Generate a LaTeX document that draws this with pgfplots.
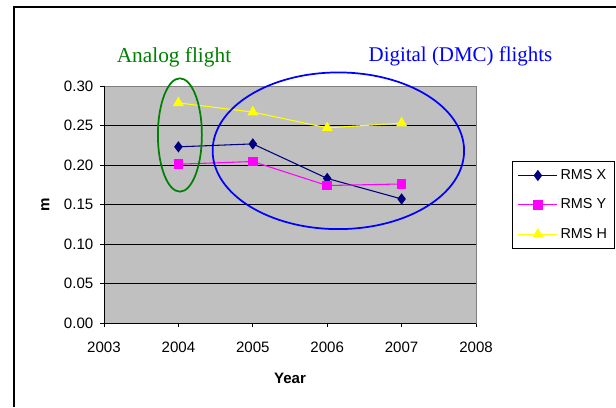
\documentclass[border=0pt]{standalone}
\usepackage{fontspec}
\setmainfont{Liberation Sans}
\newfontfamily\timesfont{Liberation Serif}
\usepackage{pgfplots}
\pgfplotsset{compat=1.18}
\definecolor{plotgray}{RGB}{192,192,192}
\definecolor{rmsx}{RGB}{0,0,128}
\definecolor{rmsy}{RGB}{255,0,255}
\definecolor{rmsh}{RGB}{255,255,0}
\definecolor{anagreen}{RGB}{0,128,0}
\definecolor{digblue}{RGB}{0,0,255}
\begin{document}
\begin{tikzpicture}[x=0.75pt,y=0.75pt]
\useasboundingbox (0,0) rectangle (616,407);
\draw[line width=1.4pt] (13.7,0) -- (13.7,400.3) -- (616,400.3);
\begin{axis}[
  at={(78pt,63pt)}, anchor=south west,
  scale only axis, width=279pt, height=177.75pt,
  xmin=2003, xmax=2008, ymin=0, ymax=0.3,
  xtick={2003,2004,2005,2006,2007,2008},
  ytick={0,0.05,0.10,0.15,0.20,0.25,0.30},
  /pgf/number format/assume math mode=true,
  x tick label style={/pgf/number format/.cd, 1000 sep={}, /tikz/.cd, yshift=-8pt},
  y tick label style={/pgf/number format/.cd, fixed, fixed zerofill, precision=2, /tikz/.cd, xshift=-1.5pt},
  tick align=outside, major tick length=3pt,
  xtick pos=bottom, ytick pos=left,
  ymajorgrids, grid style={black, line width=0.7pt},
  axis background/.style={fill=plotgray},
  axis line style={draw=gray, line width=0.7pt},
  tick style={black, line width=0.7pt},
  ticklabel style={font=\fontsize{11.3}{13}\selectfont},
  xlabel={Year}, xlabel style={font=\bfseries\fontsize{11.3}{13}\selectfont, yshift=-8pt},
  ylabel={m}, ylabel style={font=\bfseries\fontsize{11.3}{13}\selectfont, yshift=4pt},
  clip=false,
  legend style={at={(axis description cs:1.097,0.6835)}, anchor=north west,
    draw=black, line width=0.7pt, font=\fontsize{10.8}{12}\selectfont,
    row sep=9pt, inner sep=4pt, cells={anchor=west}},
  legend image code/.code={\draw[mark repeat=2,mark phase=2,#1] plot coordinates {(0pt,0pt) (14.6pt,0pt) (29.2pt,0pt)};},
]
\addplot[rmsx, line width=0.8pt, mark=diamond*, mark size=3.6pt, mark options={fill=rmsx, draw=rmsx}]
  coordinates {(2004,0.223) (2005,0.2267) (2006,0.183) (2007,0.157)};
\addlegendentry{RMS X}
\addplot[rmsy, line width=0.8pt, mark=square*, mark size=3.2pt, mark options={fill=rmsy, draw=rmsy}]
  coordinates {(2004,0.201) (2005,0.2044) (2006,0.174) (2007,0.176)};
\addlegendentry{RMS Y}
\addplot[rmsh, line width=0.8pt, mark=triangle*, mark size=4pt, mark options={fill=rmsh, draw=rmsh}]
  coordinates {(2004,0.2786) (2005,0.267) (2006,0.247) (2007,0.253)};
\addlegendentry{RMS H}
\draw[black, line width=0.7pt] (rel axis cs:0,0) -- (rel axis cs:0,1);
\draw[black, line width=0.7pt] (rel axis cs:0,0) -- (rel axis cs:1,0);
\draw[anagreen, line width=1.3pt] (axis cs:2004.02,0.238) ellipse [x radius=16.5pt, y radius=42.5pt];
\draw[digblue, line width=1.3pt] (axis cs:2006.15,0.218) ellipse [x radius=94.3pt, y radius=58.75pt];
\end{axis}
\node[anagreen, font=\timesfont\fontsize{16}{18}\selectfont] at (174,349.7) {Analog flight};
\node[digblue, font=\timesfont\fontsize{15.7}{18}\selectfont] at (460.5,350.3) {Digital (DMC) flights};
\end{tikzpicture}
\end{document}
